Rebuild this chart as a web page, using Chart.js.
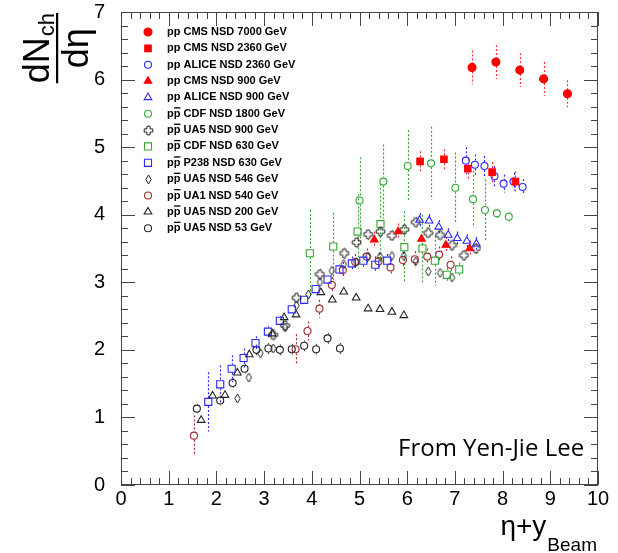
<!DOCTYPE html>
<html><head><meta charset="utf-8">
<script src="https://cdn.jsdelivr.net/npm/chart.js@4.4.0/dist/chart.umd.min.js"></script>
<style>html,body{margin:0;padding:0;background:#fff;}canvas{display:block;}</style>
</head><body>
<canvas id="c" width="618" height="553" style="width:618px;height:553px"></canvas>
<script>
// ---------- tick labels ----------
const xTickValues = [0,1,2,3,4,5,6,7,8,9,10];
const yTickValues = [0,1,2,3,4,5,6,7];

// ---------- series data (x = eta + y_beam, y = dNch/deta, err = error bar half-length) ----------
const cms7000X = [7.36, 7.86, 8.36, 8.86, 9.36];
const cms7000Y = [6.18, 6.26, 6.14, 6.01, 5.79];
const cms7000E = [0.25, 0.25, 0.25, 0.25, 0.20];

const cms2360X = [6.27, 6.77, 7.27, 7.78, 8.27];
const cms2360Y = [4.79, 4.82, 4.68, 4.63, 4.49];
const cms2360E = [0.15, 0.15, 0.15, 0.15, 0.15];

const alice2360X = [7.23, 7.42, 7.62, 7.83, 8.02, 8.23, 8.42];
const alice2360Y = [4.80, 4.74, 4.72, 4.57, 4.46, 4.49, 4.41];
const alice2360E = [0.20, 0.15, 0.15, 0.15, 0.13, 0.13, 0.12];

const cms900X = [5.31, 5.81, 6.30, 6.81, 7.31];
const cms900Y = [3.63, 3.75, 3.64, 3.55, 3.50];
const cms900E = [0.12, 0.12, 0.12, 0.12, 0.12];

const alice900X = [6.26, 6.46, 6.66, 6.86, 7.05, 7.25, 7.45];
const alice900Y = [3.92, 3.91, 3.82, 3.70, 3.65, 3.61, 3.57];
const alice900E = [0.10, 0.10, 0.10, 0.10, 0.10, 0.10, 0.10];

const cdf1800X = [5.00, 5.50, 6.01, 6.50, 7.01, 7.38, 7.63, 7.88, 8.13];
const cdf1800Y = [4.21, 4.49, 4.72, 4.76, 4.40, 4.23, 4.07, 4.02, 3.97];
const cdf1800E = [0.64, 0.55, 0.53, 0.54, 0.52, 0.42, 0.45, 0.07, 0.07];

const ua5900X = [3.19, 3.44, 3.68, 4.17, 4.68, 4.94, 5.18, 5.44, 5.68, 5.94, 6.18, 6.44, 6.69, 6.94, 7.19, 7.44];
const ua5900Y = [2.22, 2.36, 2.77, 3.12, 3.43, 3.59, 3.71, 3.75, 3.69, 3.78, 3.89, 3.73, 3.70, 3.55, 3.40, 3.50];
const ua5900E = [0.08, 0.08, 0.08, 0.08, 0.08, 0.08, 0.08, 0.08, 0.08, 0.08, 0.08, 0.08, 0.08, 0.08, 0.08, 0.08];

const cdf630X = [3.96, 4.45, 4.96, 5.44, 5.94, 6.32, 6.58, 6.83, 7.09];
const cdf630Y = [3.43, 3.53, 3.75, 3.86, 3.52, 3.50, 3.32, 3.11, 3.19];
const cdf630E = [0.64, 0.50, 0.55, 0.60, 0.53, 0.50, 0.37, 0.10, 0.10];

const p238X = [1.83, 2.08, 2.32, 2.57, 2.82, 3.08, 3.33, 3.58, 3.84, 4.08, 4.33, 4.58, 4.84, 5.08, 5.33, 5.58];
const p238Y = [1.23, 1.49, 1.72, 1.88, 2.10, 2.27, 2.43, 2.60, 2.74, 2.90, 3.04, 3.19, 3.28, 3.32, 3.26, 3.32];
const p238E = [0.44, 0.28, 0.20, 0.14, 0.10, 0.08, 0.07, 0.06, 0.06, 0.06, 0.06, 0.07, 0.10, 0.10, 0.12, 0.10];

const ua5546X = [2.44, 2.68, 2.92, 3.19, 3.44, 3.68, 3.93, 4.17, 4.42, 4.67, 4.93, 5.18, 5.43, 5.68, 5.93, 6.18, 6.44, 6.69, 6.94];
const ua5546Y = [1.28, 1.59, 1.95, 2.02, 2.33, 2.66, 2.82, 3.00, 3.17, 3.27, 3.30, 3.38, 3.38, 3.39, 3.39, 3.31, 3.16, 3.14, 3.07];
const ua5546E = [0.05, 0.05, 0.05, 0.05, 0.05, 0.05, 0.05, 0.05, 0.05, 0.05, 0.05, 0.05, 0.05, 0.05, 0.05, 0.05, 0.05, 0.05, 0.05];

const ua1540X = [1.53, 3.66, 3.91, 4.16, 4.42, 4.65, 4.91, 5.15, 5.40, 5.65, 5.91, 6.16, 6.42, 6.67, 6.91];
const ua1540Y = [0.73, 2.01, 2.28, 2.61, 2.96, 3.18, 3.30, 3.38, 3.31, 3.22, 3.33, 3.34, 3.38, 3.41, 3.26];
const ua1540E = [0.30, 0.22, 0.14, 0.13, 0.12, 0.12, 0.12, 0.12, 0.12, 0.12, 0.12, 0.12, 0.12, 0.12, 0.12];

const ua5200X = [1.68, 1.92, 2.18, 2.44, 2.69, 3.17, 3.42, 3.67, 4.19, 4.43, 4.67, 4.93, 5.18, 5.43, 5.68, 5.93];
const ua5200Y = [0.96, 1.32, 1.33, 1.66, 1.93, 2.24, 2.48, 2.52, 2.85, 2.74, 2.86, 2.77, 2.61, 2.60, 2.56, 2.51];
const ua5200E = [0.05, 0.05, 0.05, 0.05, 0.05, 0.05, 0.05, 0.05, 0.05, 0.05, 0.05, 0.05, 0.05, 0.05, 0.05, 0.05];

const ua553X = [1.59, 2.08, 2.34, 2.59, 2.84, 3.09, 3.33, 3.58, 3.84, 4.09, 4.33, 4.59];
const ua553Y = [1.13, 1.25, 1.51, 1.72, 2.00, 2.02, 2.00, 2.01, 2.06, 2.01, 2.17, 2.02];
const ua553E = [0.07, 0.07, 0.07, 0.07, 0.08, 0.08, 0.08, 0.08, 0.08, 0.08, 0.08, 0.08];

const seriesLabels = [
  'pp CMS NSD 7000 GeV',
  'pp CMS NSD 2360 GeV',
  'pp ALICE NSD 2360 GeV',
  'pp CMS NSD 900 GeV',
  'pp ALICE NSD 900 GeV',
  'pp\u0305 CDF NSD 1800 GeV',
  'pp\u0305 UA5 NSD 900 GeV',
  'pp\u0305 CDF NSD 630 GeV',
  'pp\u0305 P238 NSD 630 GeV',
  'pp\u0305 UA5 NSD 546 GeV',
  'pp\u0305 UA1 NSD 540 GeV',
  'pp\u0305 UA5 NSD 200 GeV',
  'pp\u0305 UA5 NSD 53 GeV'
];

// ---------- styles ----------
const RED = '#ff0000', BLUE = '#2a2aff', GREEN = '#35a835', BROWN = '#a32a2a', BLACK = '#222222';

function crossImg(color){
  const c = document.createElement('canvas'); c.width = 11; c.height = 11;
  const g = c.getContext('2d'); g.strokeStyle = color; g.lineWidth = 1;
  const a = 1.6, b = 4.3, cx = 5.5, cy = 5.5;
  g.beginPath();
  g.moveTo(cx-a,cy-b); g.lineTo(cx+a,cy-b); g.lineTo(cx+a,cy-a); g.lineTo(cx+b,cy-a);
  g.lineTo(cx+b,cy+a); g.lineTo(cx+a,cy+a); g.lineTo(cx+a,cy+b); g.lineTo(cx-a,cy+b);
  g.lineTo(cx-a,cy+a); g.lineTo(cx-b,cy+a); g.lineTo(cx-b,cy-a); g.lineTo(cx-a,cy-a);
  g.closePath(); g.stroke(); return c;
}
function diamondImg(color){
  const c = document.createElement('canvas'); c.width = 9; c.height = 11;
  const g = c.getContext('2d'); g.strokeStyle = color; g.lineWidth = 1;
  g.beginPath(); g.moveTo(4.5,1); g.lineTo(7.2,5.5); g.lineTo(4.5,10); g.lineTo(1.8,5.5); g.closePath(); g.stroke();
  return c;
}
const CROSS = crossImg(BLACK), DIAMOND = diamondImg(BLACK);

const styles = [
  {pointStyle:'circle',   r:4.0, fill:RED,  stroke:RED,  err:'#ff3030', half:4},
  {pointStyle:'rect',     r:4.6, fill:RED,  stroke:RED,  err:'#ff3030', half:4},
  {pointStyle:'circle',   r:3.5, fill:null, stroke:BLUE, err:BLUE, half:4},
  {pointStyle:'triangle', r:4.4, fill:RED,  stroke:RED,  err:'#ff3030', half:4},
  {pointStyle:'triangle', r:4.4, fill:null, stroke:BLUE, err:BLUE, half:4},
  {pointStyle:'circle',   r:3.5, fill:null, stroke:GREEN, err:GREEN, half:4},
  {pointStyle:CROSS,      r:4.5, fill:null, stroke:BLACK, err:'#444', half:5},
  {pointStyle:'rect',     r:5.0, fill:null, stroke:GREEN, err:GREEN, half:4},
  {pointStyle:'rect',     r:5.0, fill:null, stroke:BLUE, err:BLUE, half:4},
  {pointStyle:DIAMOND,    r:4.5, fill:null, stroke:BLACK, err:'#444', half:5},
  {pointStyle:'circle',   r:3.5, fill:null, stroke:BROWN, err:BROWN, half:4},
  {pointStyle:'triangle', r:4.4, fill:null, stroke:BLACK, err:'#444', half:4},
  {pointStyle:'circle',   r:3.5, fill:null, stroke:BLACK, err:'#444', half:4}
];

const seriesData = [
  [cms7000X, cms7000Y, cms7000E],
  [cms2360X, cms2360Y, cms2360E],
  [alice2360X, alice2360Y, alice2360E],
  [cms900X, cms900Y, cms900E],
  [alice900X, alice900Y, alice900E],
  [cdf1800X, cdf1800Y, cdf1800E],
  [ua5900X, ua5900Y, ua5900E],
  [cdf630X, cdf630Y, cdf630E],
  [p238X, p238Y, p238E],
  [ua5546X, ua5546Y, ua5546E],
  [ua1540X, ua1540Y, ua1540E],
  [ua5200X, ua5200Y, ua5200E],
  [ua553X, ua553Y, ua553E]
];

const datasets = seriesData.map((s, k) => {
  const st = styles[k];
  return {
    label: seriesLabels[k],
    data: s[0].map((x, i) => ({x: x, y: s[1][i]})),
    errs: s[2],
    errColor: st.err,
    errGap: st.half,
    showLine: false,
    pointStyle: st.pointStyle,
    pointRadius: st.r,
    pointHoverRadius: st.r,
    pointBackgroundColor: st.fill || 'rgba(0,0,0,0)',
    pointBorderColor: st.stroke,
    pointBorderWidth: 1.1
  };
});

const FONT = "'Liberation Sans', Arial, Helvetica, sans-serif";

// ---------- error bars ----------
const errorBars = {
  id: 'errorBars',
  beforeDatasetsDraw(chart) {
    const ctx = chart.ctx, ys = chart.scales.y;
    chart.data.datasets.forEach((ds, k) => {
      const meta = chart.getDatasetMeta(k);
      ctx.save();
      ctx.strokeStyle = ds.errColor; ctx.lineWidth = 1.2; ctx.setLineDash([2, 2]);
      meta.data.forEach((pt, i) => {
        const v = ds.data[i].y, e = ds.errs[i];
        const top = ys.getPixelForValue(v + e), bot = ys.getPixelForValue(v - e);
        const px = Math.round(pt.x) + 0.5, g = ds.errGap;
        ctx.beginPath();
        if (pt.y - g > top) { ctx.moveTo(px, top); ctx.lineTo(px, pt.y - g); }
        if (pt.y + g < bot) { ctx.moveTo(px, pt.y + g); ctx.lineTo(px, bot); }
        ctx.stroke();
      });
      ctx.restore();
    });
  }
};

// ---------- frame with ROOT-style inward ticks ----------
const frame = {
  id: 'frame',
  afterDatasetsDraw(chart) {
    const ctx = chart.ctx, xs = chart.scales.x, ys = chart.scales.y;
    const {left, right, top, bottom} = chart.chartArea;
    ctx.save();
    ctx.strokeStyle = '#444'; ctx.lineWidth = 1;
    ctx.strokeRect(left + 0.5, top + 0.5, right - left - 1, bottom - top - 1);
    ctx.beginPath();
    for (let i = 0; i <= 50; i++) {
      const px = Math.round(xs.getPixelForValue(i * 0.2)) + 0.5;
      const len = (i % 5 === 0) ? 14 : 7;
      ctx.moveTo(px, bottom); ctx.lineTo(px, bottom - len);
      ctx.moveTo(px, top); ctx.lineTo(px, top + len);
    }
    for (let i = 0; i <= 35; i++) {
      const py = Math.round(ys.getPixelForValue(i * 0.2)) + 0.5;
      const len = (i % 5 === 0) ? 14 : 7;
      ctx.moveTo(left, py); ctx.lineTo(left + len, py);
      ctx.moveTo(right, py); ctx.lineTo(right - len, py);
    }
    ctx.stroke();
    ctx.restore();
  }
};

// ---------- legend drawn inside plot ----------
function drawMarker(ctx, st, x, y) {
  ctx.save();
  ctx.lineWidth = 1.1;
  ctx.strokeStyle = st.stroke; ctx.fillStyle = st.fill || 'rgba(0,0,0,0)';
  const r = st.r;
  if (typeof st.pointStyle !== 'string') {
    const im = st.pointStyle; ctx.drawImage(im, Math.round(x - im.width / 2), Math.round(y - im.height / 2));
  } else {
    ctx.beginPath();
    if (st.pointStyle === 'circle') ctx.arc(x, y, r, 0, Math.PI * 2);
    else if (st.pointStyle === 'rect') { const s = r * Math.SQRT1_2; ctx.rect(x - s, y - s, 2 * s, 2 * s); }
    else if (st.pointStyle === 'triangle') {
      ctx.moveTo(x, y - r); ctx.lineTo(x + 0.866 * r, y + 0.5 * r); ctx.lineTo(x - 0.866 * r, y + 0.5 * r); ctx.closePath();
    }
    if (st.fill) ctx.fill();
    ctx.stroke();
  }
  ctx.restore();
}
const insideLegend = {
  id: 'insideLegend',
  afterDraw(chart) {
    const ctx = chart.ctx;
    ctx.save();
    ctx.font = 'bold 11px ' + FONT;
    ctx.fillStyle = '#000'; ctx.textBaseline = 'middle'; ctx.textAlign = 'left';
    chart.data.datasets.forEach((ds, k) => {
      const y = 32 + k * 16.35, x0 = 167;
      drawMarker(ctx, styles[k], 148, y);
      let txt = ds.label;
      if (txt.indexOf('\u0305') >= 0) {
        const plain = txt.replace('\u0305', '');
        ctx.fillText(plain, x0, y);
        const wp = ctx.measureText('p').width;
        ctx.fillRect(x0 + wp + 0.3, y - 6.5, wp - 0.3, 1.3);
      } else {
        ctx.fillText(txt, x0, y);
      }
    });
    ctx.restore();
  }
};

// ---------- axis titles + annotation ----------
const titles = {
  id: 'titles',
  afterDraw(chart) {
    const ctx = chart.ctx;
    ctx.save();
    ctx.fillStyle = '#000';
    // x title: eta + y_Beam, right aligned at plot right
    ctx.textBaseline = 'alphabetic'; ctx.textAlign = 'left';
    const mainF = '28px ' + FONT, subF = '19px ' + FONT;
    ctx.font = subF; const wSub = ctx.measureText('Beam').width;
    ctx.font = mainF; const wMain = ctx.measureText('\u03b7+y').width;
    const xEnd = 597, xStart = xEnd - wSub - wMain - 1;
    ctx.fillText('\u03b7+y', xStart, 535);
    ctx.font = subF; ctx.fillText('Beam', xStart + wMain + 1, 551);

    // y title: dN_ch / d eta, rotated
    const numF = '36px ' + FONT, chF = '22px ' + FONT;
    ctx.font = numF; const wdN = ctx.measureText('dN').width, wDen = ctx.measureText('d\u03b7').width;
    ctx.font = chF; const wch = ctx.measureText('ch').width;
    const L1 = wdN + wch + 1;
    const L = Math.max(L1, wDen);
    const Y0 = 13 + L;
    ctx.translate(0, Y0);
    ctx.rotate(-Math.PI / 2);
    ctx.font = numF; ctx.fillText('dN', 0, 49);
    ctx.font = chF; ctx.fillText('ch', wdN + 1, 54);
    ctx.fillRect(0, 56, L, 2.2);
    ctx.font = numF; ctx.fillText('d\u03b7', (L - wDen) / 2, 88);
    ctx.restore();

    ctx.save();
    ctx.fillStyle = '#000';
    ctx.font = "24px 'Open Sans', sans-serif";
    ctx.textBaseline = 'alphabetic'; ctx.textAlign = 'left';
    ctx.fillText('From Yen-Jie Lee', 398, 456);
    ctx.restore();
  }
};

new Chart(document.getElementById('c'), {
  type: 'scatter',
  data: { datasets: datasets },
  options: {
    responsive: false,
    animation: false,
    events: [],
    devicePixelRatio: 1,
    layout: { padding: { top: 12, right: 20, left: 0, bottom: 0 } },
    plugins: { legend: { display: false }, tooltip: { enabled: false }, title: { display: false } },
    scales: {
      x: {
        type: 'linear', min: 0, max: 10,
        afterBuildTicks: (s) => { s.ticks = xTickValues.map(v => ({value: v})); },
        afterFit: (s) => { s.height = 68; s.paddingLeft = 0; s.paddingRight = 0; },
        grid: { display: false }, border: { display: false },
        ticks: { color: '#000', padding: -6, maxRotation: 0, autoSkip: false, font: { family: FONT, size: 20 } }
      },
      y: {
        type: 'linear', min: 0, max: 7,
        afterBuildTicks: (s) => { s.ticks = yTickValues.map(v => ({value: v})); },
        afterFit: (s) => { s.width = 121; s.paddingTop = 0; s.paddingBottom = 0; },
        grid: { display: false }, border: { display: false },
        ticks: { color: '#000', padding: 8, autoSkip: false, font: { family: FONT, size: 20 } }
      }
    }
  },
  plugins: [errorBars, frame, insideLegend, titles]
});
</script>
</body></html>
